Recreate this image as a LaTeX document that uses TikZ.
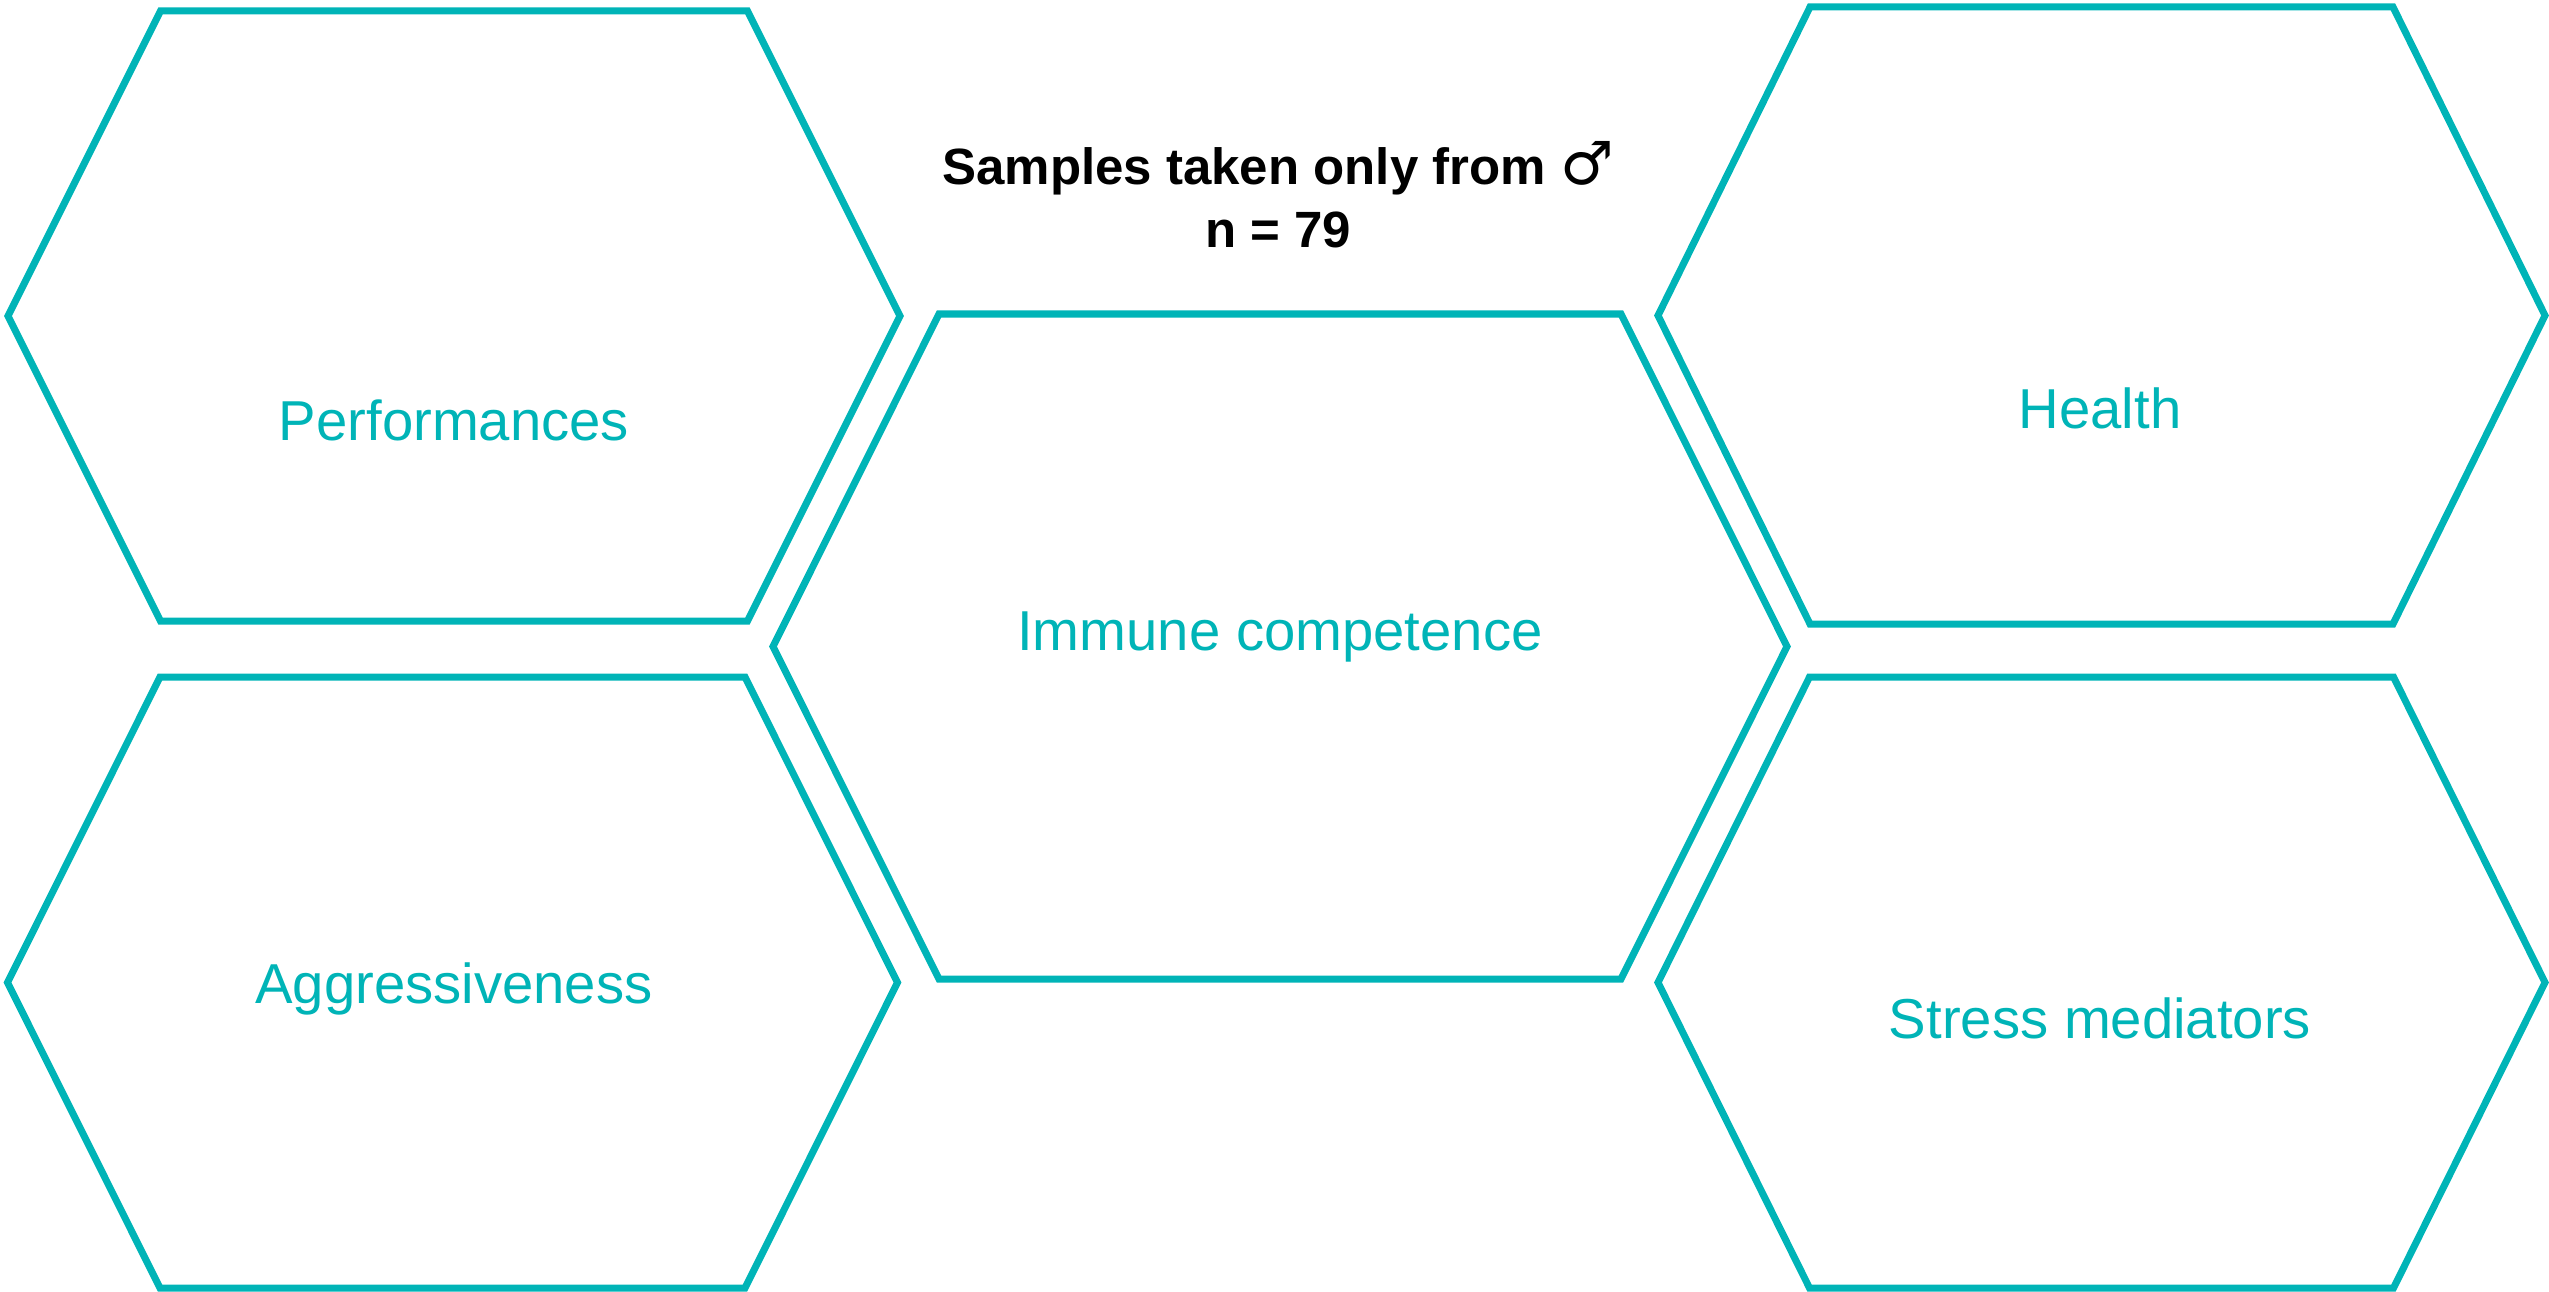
\documentclass[tikz,border=0pt]{standalone}
\usepackage{fontspec}
\setmainfont{Liberation Sans}
\newfontfamily\symfont{DejaVu Sans}
\usetikzlibrary{positioning}
\definecolor{hexteal}{HTML}{00B4B7}

% flat-topped hexagon: name, centre, half width, half top edge, half height
\newcommand{\hexcell}[5]{%
  \coordinate (#1) at (#2);
  \begin{scope}[shift={(#1)}]
    \draw[hexline] (-#4,-#5) -- (#4,-#5) -- (#3,0) -- (#4,#5) -- (-#4,#5) -- (-#3,0) -- cycle;
  \end{scope}}

\begin{document}
\begin{tikzpicture}[x=0.01cm, y=-0.01cm,
    hexline/.style={draw=hexteal, line width=0.07cm, line join=miter},
    lbl/.style={text=hexteal, font=\fontsize{16}{19}\selectfont, inner sep=0pt},
    head/.style={font=\fontsize{14.5}{17}\selectfont\bfseries, inner sep=0pt, anchor=base}]
  \useasboundingbox (0,0) rectangle (2549,1291);

  % the five cells
  \hexcell{perf}{454,316}{446}{293.5}{305}
  \hexcell{aggr}{452.5,982.5}{445}{292.5}{305.5}
  \hexcell{immu}{1280,646.5}{507}{341}{332.5}
  \hexcell{heal}{2101.5,315.5}{443.5}{291.5}{308.5}
  \hexcell{strs}{2101.5,982.5}{443.5}{292}{305.5}

  % labels
  \node[lbl] (perflbl) at (454,420) {Performances};
  \node[lbl] (aggrlbl) at (454,989) {Aggressiveness};
  \node[lbl] (immulbl) at (1280,637) {Immune competence};
  \node[lbl] (heallbl) at (2100,408) {Health};
  \node[lbl] (strslbl) at (2100,1018) {Stress mediators};

  % sample note
  \node[head] (note) at (1278,185) {Samples taken only from {\symfont\bfseries\fontsize{17}{17}\selectfont ♂}};
  \node[head] (count) at (1278,247) {n = 79};
\end{tikzpicture}
\end{document}
